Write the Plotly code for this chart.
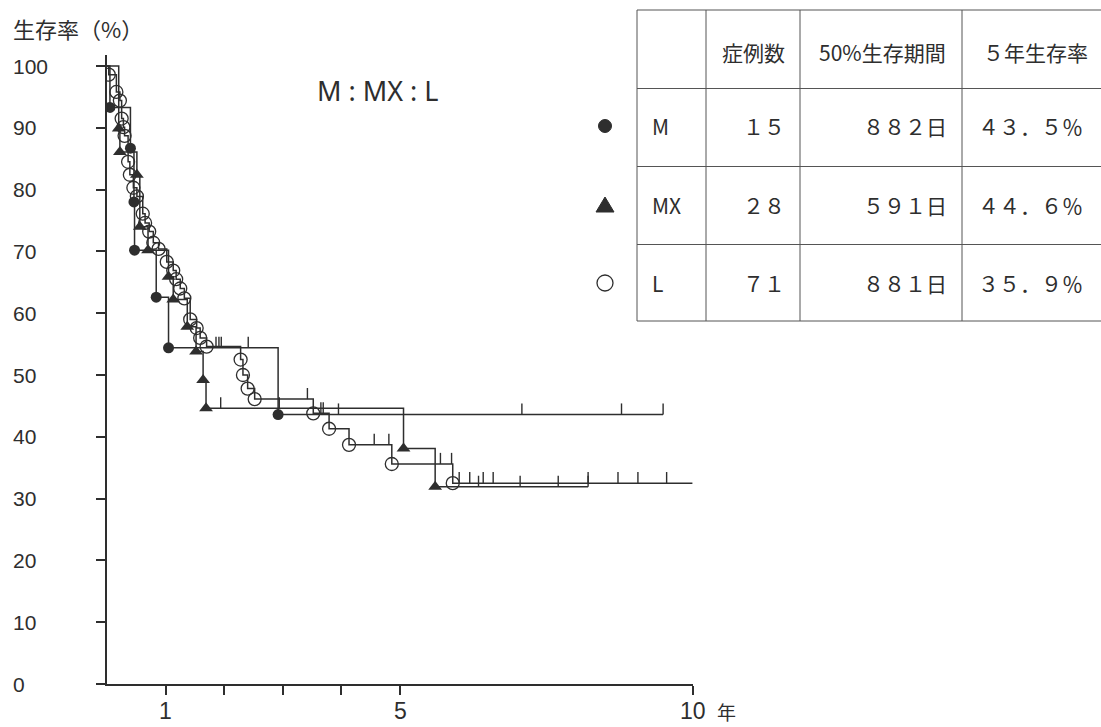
import plotly.graph_objects as go

# ---------------- data ----------------
# M group (filled circles): death times (years) and survival (%)
m_times = [0.05, 0.40, 0.46, 0.47, 0.84, 1.05, 2.92]
m_surv = [93.3, 86.7, 78.0, 70.2, 62.6, 54.4, 43.6]
m_censor = [1.86, 1.91, 1.95, 2.41, 3.95, 7.08, 8.78, 9.49]
m_end = 9.49

# MX group (filled triangles)
mx_times = [0.20, 0.22, 0.51, 0.56, 0.70, 1.05, 1.13, 1.37, 1.52, 1.64, 1.69, 5.06, 5.60]
mx_surv = [89.9, 86.1, 82.4, 74.0, 70.2, 65.9, 62.2, 57.8, 53.8, 49.2, 44.6, 38.1, 31.9]
mx_censor = [1.94, 2.94, 6.34, 7.05, 7.70, 8.21]
mx_end = 8.21

# L group (open circles)
l_times = [0.03, 0.16, 0.22, 0.25, 0.28, 0.30, 0.36, 0.39, 0.45, 0.51, 0.61, 0.65,
           0.72, 0.79, 0.88, 1.02, 1.13, 1.18, 1.25, 1.32, 1.42, 1.53, 1.59, 1.70,
           2.28, 2.32, 2.40, 2.52, 3.52, 3.79, 4.13, 4.86, 5.90]
l_surv = [98.6, 95.8, 94.4, 91.5, 90.1, 88.7, 84.5, 82.4, 80.3, 78.9, 76.1, 74.6,
          73.2, 71.4, 70.4, 68.3, 66.9, 65.5, 64.0, 62.4, 59.0, 57.6, 56.0, 54.6,
          52.5, 50.0, 47.8, 46.1, 43.8, 41.3, 38.7, 35.6, 32.5]
l_censor = [3.42, 3.65, 3.69, 4.56, 4.81, 5.69, 5.88, 6.01, 6.19, 6.42, 6.59,
            8.21, 8.72, 9.06, 9.55]
l_end = 9.99

# axis ticks
y_tickvals = [0, 10, 20, 30, 40, 50, 60, 70, 80, 90, 100]
y_ticklabels = ["0", "10", "20", "30", "40", "50", "60", "70", "80", "90", "100"]
x_tickvals = [1, 2, 3, 4, 5, 10]
x_ticklabels = ["1", "", "", "", "5", "10"]

# table
tbl_header = ["症例数", "50%生存期間", "５年生存率"]
tbl_groups = ["M", "MX", "L"]
tbl_cases = ["１５", "２８", "７１"]
tbl_median = ["８８２日", "５９１日", "８８１日"]
tbl_5yr = ["４３．５％", "４４．６％", "３５．９％"]

# ---------------- layout geometry (pixels) ----------------
W, H = 1101, 727
L, R, T, B = 107, 693, 55, 684
PW, PH = R - L, B - T
Y_TOP = 100 * PH / (B - 66)

def px(x):
    return (x - L) / PW

def py(y):
    return (B - y) / PH

INK = "#2e2e2e"
NUMF = "Liberation Sans, Arial, sans-serif"
CJK = "Noto Sans CJK JP, Noto Sans, sans-serif"

def surv_at(times, vals, t):
    v = 100.0
    for ti, vi in zip(times, vals):
        if ti <= t:
            v = vi
    return v

fig = go.Figure()

groups = [
    (m_times, m_surv, m_censor, m_end, dict(symbol="circle", size=11, color=INK)),
    (mx_times, mx_surv, mx_censor, mx_end, dict(symbol="triangle-up", size=12, color=INK)),
    (l_times, l_surv, l_censor, l_end, dict(symbol="circle-open", size=13, color=INK,
                                            line=dict(width=1.3, color=INK))),
]

for times, surv, cens, end, mk in groups:
    fig.add_trace(go.Scatter(
        x=[0] + times + [end], y=[100] + surv + [surv[-1]],
        mode="lines", line=dict(shape="hv", color=INK, width=1.5),
        hoverinfo="skip", showlegend=False))
    cx, cy = [], []
    for t in cens:
        s = surv_at(times, surv, t)
        cx += [t, t, None]
        cy += [s, s + 1.8, None]
    fig.add_trace(go.Scatter(x=cx, y=cy, mode="lines",
                             line=dict(color=INK, width=1.4),
                             hoverinfo="skip", showlegend=False))

for times, surv, cens, end, mk in groups:
    fig.add_trace(go.Scatter(x=times, y=surv, mode="markers", marker=mk,
                             hoverinfo="skip", showlegend=False))

annotations = []
# y tick labels (left aligned, as in the original)
for v, lab in zip(y_tickvals, y_ticklabels):
    annotations.append(dict(x=px(11), xref="paper", y=v, yref="y", text=lab,
                            showarrow=False, xanchor="left", yanchor="middle",
                            font=dict(family=NUMF, size=21, color=INK)))
# x tick labels (placed lower than plotly's default)
for v, lab in zip(x_tickvals, x_ticklabels):
    if lab:
        annotations.append(dict(x=v, xref="x", y=py(711), yref="paper", text=lab,
                                showarrow=False, xanchor="center", yanchor="middle",
                                font=dict(family=NUMF, size=23, color=INK)))
# axis titles
annotations.append(dict(x=px(11), xref="paper", y=py(28), yref="paper",
                        text="生存率（%）", showarrow=False, xanchor="left",
                        yanchor="middle", font=dict(family=CJK, size=22, color=INK)))
annotations.append(dict(x=px(726), xref="paper", y=py(711), yref="paper",
                        text="年", showarrow=False, xanchor="center",
                        yanchor="middle", font=dict(family=CJK, size=19, color=INK)))
annotations.append(dict(x=px(378), xref="paper", y=py(90), yref="paper",
                        text="M : MX : L", showarrow=False, xanchor="center",
                        yanchor="middle", font=dict(family="Noto Sans, sans-serif",
                                                    size=27, color=INK)))

# table text
hdr_x = [753, 882, 1035]
for x, t in zip(hdr_x, tbl_header):
    annotations.append(dict(x=px(x), xref="paper", y=py(52), yref="paper", text=t,
                            showarrow=False, xanchor="center", yanchor="middle",
                            font=dict(family=CJK, size=21, color=INK)))
row_y = [126, 205, 283]
for i, yy in enumerate(row_y):
    cells = [(650, "left", tbl_groups[i]), (787, "right", tbl_cases[i]),
             (949, "right", tbl_median[i]), (976, "left", tbl_5yr[i])]
    for x, anc, t in cells:
        annotations.append(dict(x=px(x), xref="paper", y=py(yy), yref="paper", text=t,
                                showarrow=False, xanchor=anc, yanchor="middle",
                                font=dict(family=CJK, size=21, color=INK)))

shapes = []
tbl_top, tbl_bot = 10, 321
for x in [637, 706, 800, 962]:
    shapes.append(dict(type="line", xref="paper", yref="paper",
                       x0=px(x), x1=px(x), y0=py(tbl_top), y1=py(tbl_bot),
                       line=dict(color="#555", width=1)))
for y in [10, 88.5, 166.5, 244.5, 321]:
    shapes.append(dict(type="line", xref="paper", yref="paper",
                       x0=px(637), x1=px(1101), y0=py(y), y1=py(y),
                       line=dict(color="#555", width=1)))
# legend symbols beside the table
lx = 605
r = 6.5
shapes.append(dict(type="circle", xref="paper", yref="paper",
                   x0=px(lx - r), x1=px(lx + r), y0=py(row_y[0] + r), y1=py(row_y[0] - r),
                   fillcolor=INK, line=dict(color=INK, width=1)))
ty = row_y[1]
shapes.append(dict(type="path", xref="paper", yref="paper",
                   path=f"M {px(lx-9)} {py(ty+7)} L {px(lx+9)} {py(ty+7)} L {px(lx)} {py(ty-8)} Z",
                   fillcolor=INK, line=dict(color=INK, width=1)))
r2 = 8
shapes.append(dict(type="circle", xref="paper", yref="paper",
                   x0=px(lx - r2), x1=px(lx + r2), y0=py(row_y[2] + r2), y1=py(row_y[2] - r2),
                   fillcolor="rgba(0,0,0,0)", line=dict(color=INK, width=1.3)))

fig.update_layout(
    width=W, height=H, autosize=False,
    margin=dict(l=L, r=W - R, t=T, b=H - B, pad=0),
    paper_bgcolor="white", plot_bgcolor="white",
    showlegend=False,
    annotations=annotations, shapes=shapes,
    xaxis=dict(range=[0, 10], showgrid=False, zeroline=False, showline=True,
               linecolor=INK, linewidth=2, ticks="outside", ticklen=9, tickwidth=1.5,
               tickcolor=INK, tickvals=x_tickvals, showticklabels=False,
               automargin=False, fixedrange=True),
    yaxis=dict(range=[0, Y_TOP], showgrid=False, zeroline=False, showline=True,
               linecolor=INK, linewidth=2, ticks="outside", ticklen=9, tickwidth=1.5,
               tickcolor=INK, tickvals=y_tickvals, showticklabels=False,
               automargin=False, fixedrange=True),
)

fig.write_html("out.html")
